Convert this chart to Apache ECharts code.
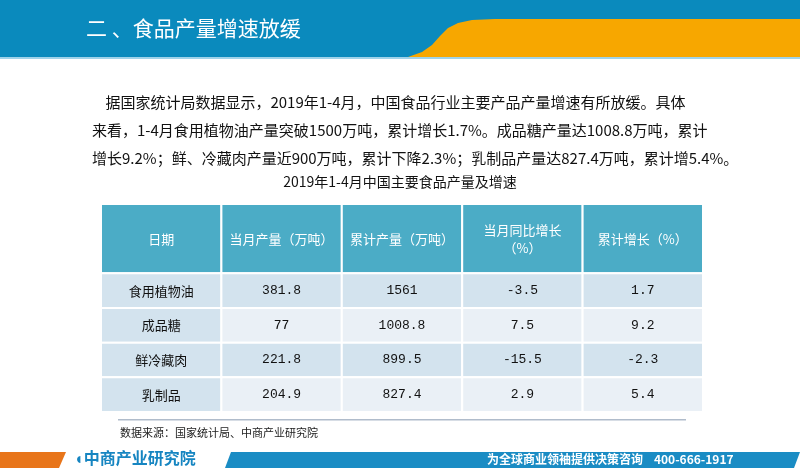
<!DOCTYPE html><html><head><meta charset="utf-8"><script src="https://cdn.jsdelivr.net/npm/echarts@6/dist/echarts.min.js"></script>
<style>body{margin:0}#c{width:800px;height:475px}</style></head><body><div id="c"></div><script>
const headers=['日期','当月产量（万吨）','累计产量（万吨）','当月同比增长\n（%）','累计增长（%）'];
const products=['食用植物油','成品糖','鲜冷藏肉','乳制品'];
const monthly=['381.8','77','221.8','204.9'];
const cumulative=['1561','1008.8','899.5','827.4'];
const monthYoY=['-3.5','7.5','-15.5','2.9'];
const cumGrowth=['1.7','9.2','-2.3','5.4'];
const cells=[];
headers.forEach((h,i)=>cells.push([i,4,6,h,'h']));
products.forEach((p,r)=>{const y1=3-r;const row=[p,monthly[r],cumulative[r],monthYoY[r],cumGrowth[r]];
 row.forEach((v,i)=>cells.push([i,y1,y1+1,v,i==0?'f':(r%2?'b':'a')]));});
const F='"Noto Sans CJK SC",sans-serif';
const chart=echarts.init(document.getElementById('c'));
chart.setOption({animation:false,backgroundColor:'#fff',
grid:{left:101,width:602,top:204,height:208},
xAxis:{type:'category',data:headers.map((h,i)=>i),show:false},
yAxis:{type:'value',min:0,max:6,show:false},
graphic:[
 {type:'rect',shape:{x:0,y:0,width:800,height:57},style:{fill:'#0A8ABD'},silent:true},
 {type:'polygon',shape:{points:[[408,57],[422,52],[432,45],[440,36],[448,28],[458,23],[472,20],[495,19],[800,19],[800,57]]},style:{fill:'#F7A700'}},
 {type:'text',left:86,top:18,style:{text:'二 、食品产量增速放缓',fill:'#fff',font:'21px '+F}},
 {type:'rect',shape:{x:0,y:57,width:800,height:2},style:{fill:'#9FD3EA'}},
 {type:'text',left:92,top:88,style:{text:'    据国家统计局数据显示，2019年1-4月，中国食品行业主要产品产量增速有所放缓。具体\n来看，1-4月食用植物油产量突破1500万吨，累计增长1.7%。成品糖产量达1008.8万吨，累计\n增长9.2%；鲜、冷藏肉产量近900万吨，累计下降2.3%；乳制品产量达827.4万吨，累计增5.4%。',fill:'#111',font:'15px '+F,lineHeight:28}},
 {type:'text',left:'center',top:175,style:{text:'2019年1-4月中国主要食品产量及增速',fill:'#111',font:'14px '+F}},
 {type:'rect',shape:{x:118,y:419,width:568,height:1.5},style:{fill:'#B0BCCB'}},
 {type:'text',left:120,top:427,style:{text:'数据来源：国家统计局、中商产业研究院',fill:'#222',font:'11px '+F}},
 {type:'polygon',shape:{points:[[0,452],[66,452],[59,468],[0,468]]},style:{fill:'#E8751A'}},
 {type:'text',left:74,top:450,style:{text:'◖中商产业研究院',fill:'#1685C1',font:'bold 16px '+F}},
 {type:'polygon',shape:{points:[[231,452],[800,452],[794,468],[225,468]]},style:{fill:'#1A8CC4'}},
 {type:'text',left:487,top:453,style:{text:'为全球商业领袖提供决策咨询    400-666-1917',fill:'#fff',font:'bold 12px '+F}}
],
series:[{type:'custom',data:cells,renderItem:(p,api)=>{
 const c=api.value(0),y0=api.value(1),y1=api.value(2);const d=cells[p.dataIndex];
 const a=api.coord([c,y1]),b=api.coord([c,y0]);const w=api.size([1,0])[0];
 const x=a[0]-w/2,y=a[1],h=b[1]-a[1];
 const fill={h:'#4BACC6',f:'#D3E3EE',a:'#D3E3EE',b:'#EAF0F6'}[d[4]];
 const cjk=d[4]=='h'||d[4]=='f';
 return {type:'group',children:[
  {type:'rect',shape:{x:x,y:y,width:w,height:h},style:{fill:fill,stroke:'#fff',lineWidth:2}},
  {type:'text',style:{text:d[3],x:x+w/2,y:y+h/2,align:'center',verticalAlign:'middle',fill:d[4]=='h'?'#fff':'#111',font:'13px '+(cjk?F:'"Liberation Mono",monospace'),lineHeight:18}}]};
}}]});
</script></body></html>
